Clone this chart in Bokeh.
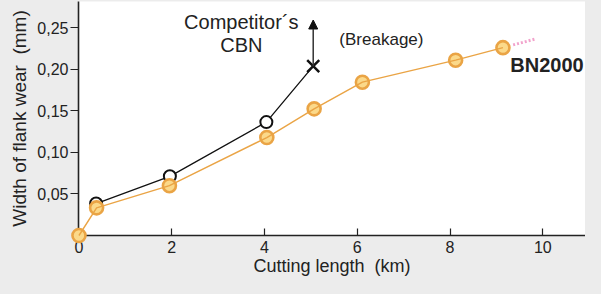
from bokeh.plotting import figure
from bokeh.models import Range1d, Arrow, NormalHead, Label, FixedTicker
from bokeh.embed import file_html
from bokeh.resources import INLINE

# ---- data ----
comp_x = [0.37, 1.96, 4.04]
comp_y = [0.0385, 0.0713, 0.1366]
break_x = [5.05]
break_y = [0.204]
bn_x = [0.0, 0.38, 1.95, 4.05, 5.07, 6.11, 8.12, 9.14]
bn_y = [0.0, 0.0333, 0.060, 0.118, 0.1526, 0.1847, 0.2112, 0.2263]
ext_x = [9.36, 9.86]
ext_y = [0.2296, 0.237]
x_ticks = [0, 2, 4, 6, 8, 10]
y_ticks = [0.05, 0.10, 0.15, 0.20, 0.25]
y_tick_labels = ["0,05", "0,10", "0,15", "0,20", "0,25"]

GRAY = "#ececec"
ORANGE = "#eaa445"
ORANGE_FILL = "#fbd98a"
FONT = "Liberation Sans"
TXT = "#222222"

p = figure(width=585, height=278, output_backend="svg", toolbar_location=None,
           x_range=Range1d(-0.01, 10.92), y_range=Range1d(0.0, 0.2819),
           min_border_left=78, min_border_bottom=43, min_border_top=1, min_border_right=0)
p.border_fill_color = GRAY
p.background_fill_color = "white"
p.outline_line_color = None
p.xgrid.visible = False
p.ygrid.visible = False

for ax in (p.xaxis[0], p.yaxis[0]):
    ax.axis_line_color = TXT
    ax.axis_line_width = 1.6
    ax.major_tick_line_color = TXT
    ax.major_tick_line_width = 1.2
    ax.minor_tick_line_color = None
    ax.major_label_text_font = FONT
    ax.major_label_text_font_size = "16px"
    ax.major_label_text_color = TXT
    ax.axis_label_text_font = FONT
    ax.axis_label_text_font_style = "normal"
    ax.axis_label_text_color = TXT

p.xaxis.ticker = FixedTicker(ticks=x_ticks)
p.xaxis.major_tick_in = 7
p.xaxis.major_tick_out = 0
p.xaxis.major_label_standoff = 5
p.xaxis.axis_label = "Cutting length\u00a0\u00a0(km)"
p.xaxis.axis_label_text_font_size = "18px"
p.xaxis.axis_label_standoff = 0

p.yaxis.ticker = FixedTicker(ticks=y_ticks)
p.yaxis.major_label_overrides = {t: l for t, l in zip(y_ticks, y_tick_labels)}
p.yaxis.major_tick_in = 0
p.yaxis.major_tick_out = 8
p.yaxis.major_label_standoff = 2
p.yaxis.axis_label = "Width of flank wear\u00a0\u00a0(mm)"
p.yaxis.axis_label_text_font_size = "19px"
p.yaxis.axis_label_standoff = 4

# competitor line (connects to breakage point)
p.line(comp_x + break_x, comp_y + break_y, line_color="#111111", line_width=1.3)
p.scatter(comp_x, comp_y, size=12, marker="circle", fill_color="white",
          line_color="#111111", line_width=2)
p.scatter(break_x, break_y, size=17, marker="x", line_color="#111111", line_width=2.5)
p.add_layout(Arrow(end=NormalHead(size=9, fill_color="#111111", line_color="#111111"),
                   x_start=break_x[0], y_start=break_y[0], x_end=break_x[0], y_end=0.2596,
                   line_color="#333333", line_width=1.5))

# BN2000
p.scatter(bn_x, bn_y, size=13, marker="circle", fill_color=ORANGE_FILL,
          line_color=ORANGE, line_width=2.6, level="overlay")
p.line(bn_x, bn_y, line_color=ORANGE, line_width=1.4, level="overlay")
p.line(ext_x, ext_y, line_color="#f2a3cc", line_width=3, line_dash="2 2")

# texts
p.add_layout(Label(x=3.50, y=0.2575, text="Competitor\u00b4s", text_align="center",
                   text_baseline="middle", text_font=FONT, text_font_size="20px",
                   text_color=TXT))
p.add_layout(Label(x=3.50, y=0.2296, text="CBN", text_align="center",
                   text_baseline="middle", text_font=FONT, text_font_size="20px",
                   text_color=TXT))
p.add_layout(Label(x=6.52, y=0.2356, text="(Breakage)", text_align="center",
                   text_baseline="middle", text_font=FONT, text_font_size="17px",
                   text_color=TXT))
p.add_layout(Label(x=9.30, y=0.2055, text="BN2000", text_align="left",
                   text_baseline="middle", text_font=FONT, text_font_size="20px",
                   text_font_style="bold", text_color=TXT))

html = file_html(p, INLINE)
html = html.replace("<head>", "<head><style>html,body{background:#ececec;}</style>", 1)
open("out.html", "w").write(html)
